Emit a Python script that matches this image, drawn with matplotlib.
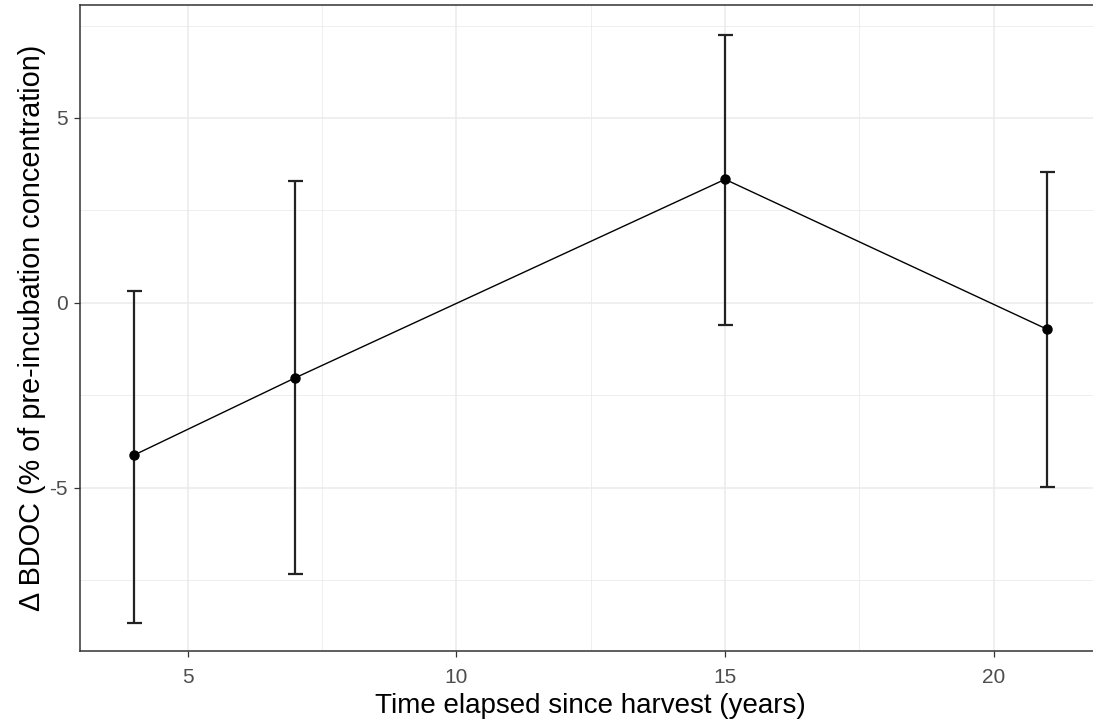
import matplotlib
matplotlib.use("Agg")
import matplotlib.pyplot as plt
import numpy as np

years = [4, 7, 15, 21]
mean_bdoc = [-4.12, -2.03, 3.34, -0.72]
upper = [0.33, 3.29, 7.24, 3.55]
lower = [-8.66, -7.34, -0.60, -4.98]
x_ticks = [5, 10, 15, 20]
y_ticks = [-5, 0, 5]

plt.rcParams['font.family'] = ['Liberation Sans', 'DejaVu Sans']

W, H = 1093, 727
fig = plt.figure(figsize=(W / 100, H / 100), dpi=100)
left, right, top, bottom = 79.5, 1102, 4.5, 651
ax = fig.add_axes([left / W, 1 - bottom / H, (right - left) / W, (bottom - top) / H])

ax.set_xlim(2.985, 22.015)
ax.set_ylim(-9.42, 8.07)

for v in [7.5, 12.5, 17.5]:
    ax.axvline(v, color='#EBEBEB', lw=0.6, zorder=0)
for v in [-7.5, -2.5, 2.5, 7.5]:
    ax.axhline(v, color='#EBEBEB', lw=0.6, zorder=0)
for v in x_ticks:
    ax.axvline(v, color='#EBEBEB', lw=1.1, zorder=0)
for v in y_ticks:
    ax.axhline(v, color='#EBEBEB', lw=1.1, zorder=0)

x = np.array(years)
m = np.array(mean_bdoc)
yerr = np.vstack([m - np.array(lower), np.array(upper) - m])
ax.plot(x, m, color='black', lw=1.0, zorder=3)
ax.errorbar(x, m, yerr=yerr, fmt='none', ecolor='#222222', elinewidth=1.6,
            capsize=7.5 * 72 / 100, capthick=1.6, zorder=2)
ax.plot(x, m, 'o', color='black', ms=6.5, zorder=4)

ax.set_xticks(x_ticks)
ax.set_yticks(y_ticks)
ax.set_xticklabels([str(t) for t in x_ticks])
ax.set_yticklabels([str(t) for t in y_ticks])
ax.tick_params(axis='both', colors='#333333', labelcolor='#4D4D4D', labelsize=15,
               length=4.5, width=0.9)
ax.tick_params(axis='x', pad=8)
ax.tick_params(axis='y', pad=4)
for s in ax.spines.values():
    s.set_color('#333333')
    s.set_linewidth(1.1)

ax.set_xlabel('Time elapsed since harvest (years)', fontsize=20, color='black', labelpad=4)
ax.set_ylabel('Δ BDOC (% of pre-incubation concentration)', fontsize=20.8, color='black', labelpad=2)

fig.savefig('out.png', dpi=100)
